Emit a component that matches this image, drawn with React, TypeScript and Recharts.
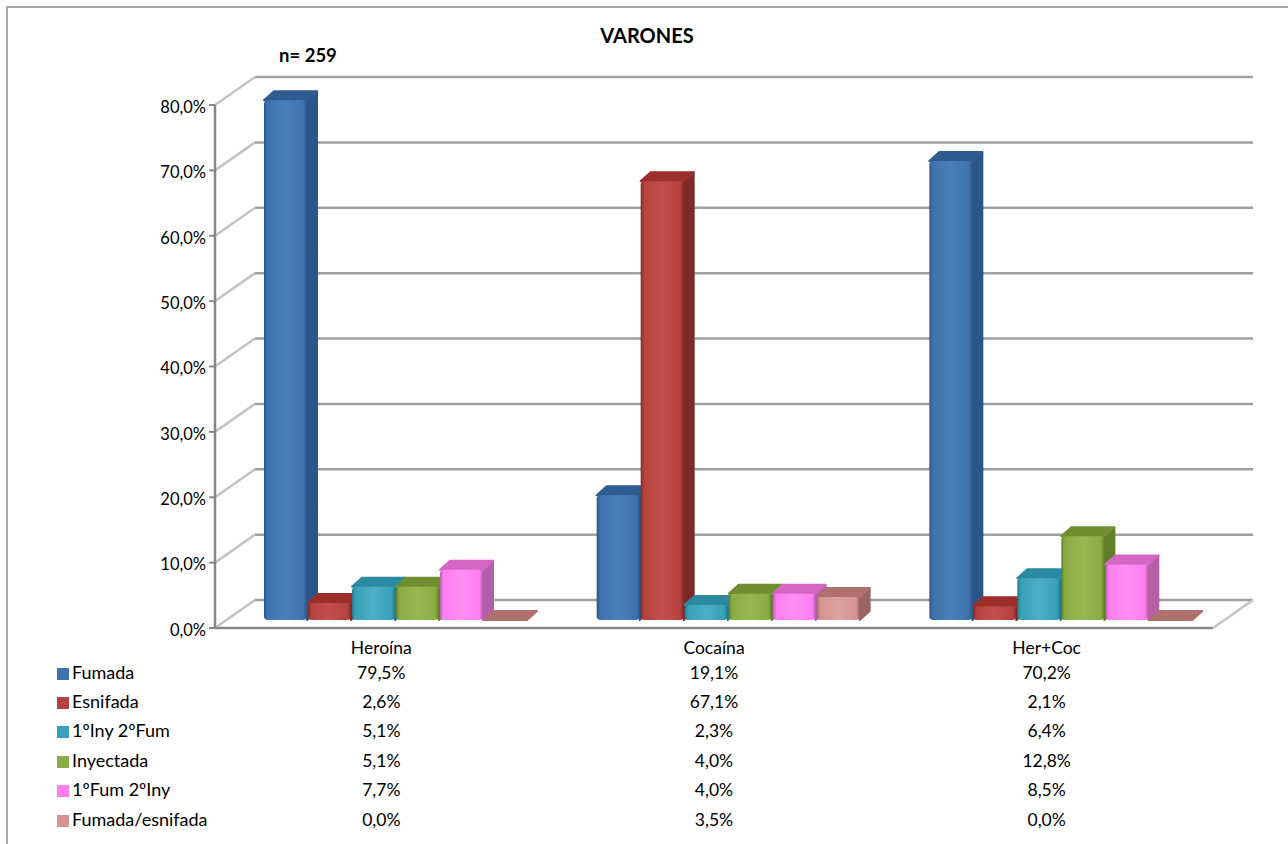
import { BarChart, Bar, XAxis, YAxis, CartesianGrid, Legend } from "recharts";

const categories = ["Heroína", "Cocaína", "Her+Coc"];
const fumada = [79.5, 19.1, 70.2];
const esnifada = [2.6, 67.1, 2.1];
const inyFum = [5.1, 2.3, 6.4];
const inyectada = [5.1, 4.0, 12.8];
const fumIny = [7.7, 4.0, 8.5];
const fumEsn = [0.0, 3.5, 0.0];
const yTicks = [0, 10, 20, 30, 40, 50, 60, 70, 80];

const seriesList = [
  { key: "Fumada", values: fumada, front: "#3f72ad", light: "#4a7fbb", dark: "#2c5688", top: "#2f5d92" },
  { key: "Esnifada", values: esnifada, front: "#b5423e", light: "#c24f4a", dark: "#7f2a28", top: "#9c2f2c" },
  { key: "1ºIny 2ºFum", values: inyFum, front: "#38a0b8", light: "#4bafc6", dark: "#23788c", top: "#2a8aa2" },
  { key: "Inyectada", values: inyectada, front: "#8aab45", light: "#97b851", dark: "#5f7f28", top: "#6f8f30" },
  { key: "1ºFum 2ºIny", values: fumIny, front: "#ff7df0", light: "#ff8ff3", dark: "#b45fa8", top: "#d466c4" },
  { key: "Fumada/esnifada", values: fumEsn, front: "#d39492", light: "#dba3a1", dark: "#9a6462", top: "#b0706e" },
];

const data = categories.map((name, i) => {
  const row: Record<string, any> = { name };
  seriesList.forEach((s) => {
    row[s.key] = s.values[i];
  });
  return row;
});

const pct = (v: number) => `${v.toFixed(1).replace(".", ",")}%`;

const font = "Lato, Carlito, sans-serif";
const rowY = [673, 702, 731, 761, 790, 820];

// bars stand on the inner floor, not on the front edge
const SHIFT_X = 16;
const SHIFT_Y = -8;
const DEPTH_X = 10;
const DEPTH_Y = 9;

function Bar3D(props: any) {
  const { x, y, width, height, tone } = props;
  const x0 = x + SHIFT_X;
  const w = width;
  const top = y + SHIFT_Y;
  const h = height;
  const id = `front-${tone.key.replace(/[^a-zA-Z]/g, "")}`;
  return (
    <g>
      <defs>
        <linearGradient id={id} x1="0" y1="0" x2="1" y2="0">
          <stop offset="0%" stopColor={tone.dark} />
          <stop offset="8%" stopColor={tone.front} />
          <stop offset="50%" stopColor={tone.light} />
          <stop offset="92%" stopColor={tone.front} />
          <stop offset="100%" stopColor={tone.dark} />
        </linearGradient>
      </defs>
      {h > 0 && (
        <path
          d={`M${x0 + w - 1},${top} L${x0 + w - 1 + DEPTH_X},${top - DEPTH_Y} L${x0 + w - 1 + DEPTH_X},${top + h - DEPTH_Y} L${x0 + w - 1},${top + h} Z`}
          fill={tone.dark}
          stroke={tone.dark}
          strokeWidth={2}
          strokeLinejoin="round"
        />
      )}
      <path
        d={`M${x0},${top} L${x0 + DEPTH_X},${top - DEPTH_Y} L${x0 + w - 1 + DEPTH_X},${top - DEPTH_Y} L${x0 + w - 1},${top} Z`}
        fill={tone.top}
        stroke={tone.top}
        strokeWidth={2}
        strokeLinejoin="round"
      />
      {h > 0 && <rect x={x0} y={top} width={w - 1} height={h} rx={4} fill={`url(#${id})`} />}
    </g>
  );
}

function WallLine(props: any) {
  const { x1, x2, y1 } = props;
  const isFloor = y1 > 620;
  return (
    <g fill="none">
      <path d={`M${x1},${y1} L${x1 + 40},${y1 - 28}`} stroke="#c4c4c4" strokeWidth={2.5} />
      <path d={`M${x1 + 40},${y1 - 28} L${x2 + 40},${y1 - 28}`} stroke="#a0a0a0" strokeWidth={2.5} />
      {isFloor && <path d={`M${x2},${y1} L${x2 + 40},${y1 - 28}`} stroke="#c4c4c4" strokeWidth={2.5} />}
    </g>
  );
}

function CategoryTick(props: any) {
  const { x, payload } = props;
  const i = payload.index;
  return (
    <g fontFamily={font} fontSize={17.5} fill="#000" textAnchor="middle">
      <text x={x} y={649.5} dominantBaseline="middle">
        {payload.value}
      </text>
      {seriesList.map((s, r) => (
        <text key={s.key} x={x} y={rowY[r] + 1.5} dominantBaseline="middle">
          {pct(s.values[i])}
        </text>
      ))}
    </g>
  );
}

function LegendTable() {
  return (
    <div style={{ position: "relative", width: 200, height: 190, fontFamily: font, fontSize: 18, color: "#000" }}>
      {seriesList.map((s, r) => (
        <div key={s.key} style={{ position: "absolute", left: 0, top: rowY[r] - 664 - 10, whiteSpace: "nowrap", lineHeight: "18px" }}>
          <span style={{ display: "inline-block", width: 12, height: 12, background: s.front, marginRight: 3, verticalAlign: -1 }} />
          {s.key}
        </div>
      ))}
    </div>
  );
}

export default function App() {
  return (
    <div style={{ position: "absolute", left: 0, top: 0, width: 1288, height: 844, background: "#fff", overflow: "hidden" }}>
      <div style={{ position: "absolute", left: 6, top: 6, width: 1300, height: 860, border: "2px solid #a6a6a6" }} />
      <div style={{ position: "absolute", left: 547, width: 200, top: 25, textAlign: "center", fontFamily: font, fontWeight: 700, fontSize: 20, lineHeight: "20px" }}>VARONES</div>
      <div style={{ position: "absolute", left: 279, top: 45, fontFamily: font, fontWeight: 700, fontSize: 18.5, lineHeight: "20px" }}>n= 259</div>
      <div style={{ position: "absolute", left: 0, top: 0 }}>
        <BarChart
          width={1288}
          height={844}
          data={data}
          barCategoryGap={33}
          barGap={0}
          margin={{ top: 105, right: 75, bottom: 0, left: 0 }}
        >
          <CartesianGrid vertical={false} horizontal={(p: any) => <WallLine key={p.key ?? p.y1} {...p} />} />
          <XAxis
            dataKey="name"
            height={216}
            axisLine={{ stroke: "#868686", strokeWidth: 2.5 }}
            tickLine={false}
            interval={0}
            tick={<CategoryTick />}
          />
          <YAxis
            width={215}
            domain={[0, 80]}
            ticks={yTicks}
            tickFormatter={pct}
            axisLine={{ stroke: "#868686", strokeWidth: 2.5 }}
            tickLine={{ stroke: "#868686", strokeWidth: 2 }}
            tickSize={6}
            tickMargin={3}
            tick={{ fontFamily: font, fontSize: 16.5, fill: "#000", dy: 2 }}
          />
          <Legend
            layout="horizontal"
            verticalAlign="middle"
            align="center"
            wrapperStyle={{ left: 57, top: 664, width: 200, margin: 0 }}
            content={<LegendTable />}
          />
          {seriesList.map((s) => (
            <Bar
              key={s.key}
              dataKey={s.key}
              isAnimationActive={false}
              fill={s.front}
              shape={(p: any) => <Bar3D {...p} tone={s} />}
            />
          ))}
        </BarChart>
      </div>
    </div>
  );
}
